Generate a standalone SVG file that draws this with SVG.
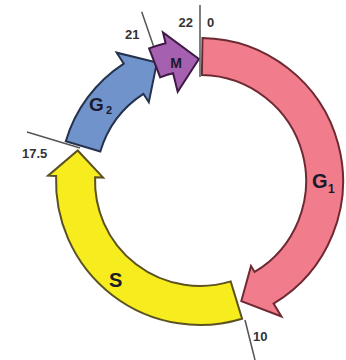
<svg xmlns="http://www.w3.org/2000/svg" width="346" height="360" viewBox="0 0 346 360">
<style>
.tick{stroke:#555;stroke-width:1.5;fill:none}
.num{font-family:"Liberation Sans",Arial,sans-serif;font-weight:bold;font-size:13px;fill:#333}
.lab{font-family:"Liberation Sans",Arial,sans-serif;font-weight:bold;fill:#1a1a2a}
.arr{stroke-width:2;stroke-linejoin:miter}
</style>
<rect width="346" height="360" fill="#ffffff"/>
<g id="G1">
<path class="arr" fill="#f07c8c" stroke="#6e2a33" d="M202.5,38 A143,143 0 0 1 273.6,303.6 L281.4,316.4 L241.3,301.1 L251,265.9 L254.6,271.9 A106,106 0 0 0 201.9,75 Z"/>
<text class="lab" x="312" y="188" font-size="20" fill="#3a0a10">G</text>
<text class="lab" x="328" y="193" font-size="12" fill="#3a0a10">1</text>
</g>
<g id="S">
<path class="arr" fill="#f7ec1e" stroke="#5b5222" d="M242.1,318.7 L230.7,281.4 A105,105 0 0 1 95.1,177.3 L103.1,177.6 L77.7,150.5 L48.1,175.7 L56.1,176 A144,144 0 0 0 242.1,318.7 Z"/>
<text class="lab" x="109" y="287" font-size="20">S</text>
</g>
<g id="G2">
<path class="arr" fill="#7193cc" stroke="#25324d" d="M65.8,141.2 L100.3,151.5 A104,104 0 0 1 143.4,93.8 L148.8,102.2 L156.9,62.6 L116.7,52.7 L123.8,63.6 A140,140 0 0 0 65.8,141.2 Z"/>
<text class="lab" x="89" y="111" font-size="19">G</text>
<text class="lab" x="106" y="114" font-size="11">2</text>
</g>
<g id="M">
<path class="arr" fill="#a561b0" stroke="#3f1a45" d="M149.1,48.4 L160.2,77.4 A111,111 0 0 1 173.1,73.3 L177.7,91.7 L198.9,59 L163,32.5 L165.6,43.2 A142,142 0 0 0 149.1,48.4 Z"/>
<text class="lab" x="176" y="68" font-size="14" text-anchor="middle" fill="#2a0a30">M</text>
</g>
<g id="connectors">
<line class="tick" x1="200" y1="5" x2="200" y2="77"/>
<line class="tick" x1="141.7" y1="11.8" x2="153.4" y2="45.8"/>
<line class="tick" x1="27" y1="132" x2="80" y2="148"/>
<line class="tick" x1="245" y1="320" x2="255" y2="360"/>
</g>
<g id="labels">
<text class="num" x="207" y="27">0</text>
<text class="num" x="193" y="27" text-anchor="end">22</text>
<text class="num" x="125" y="39">21</text>
<text class="num" x="22" y="158">17.5</text>
<text class="num" x="253" y="341">10</text>
</g>
</svg>
